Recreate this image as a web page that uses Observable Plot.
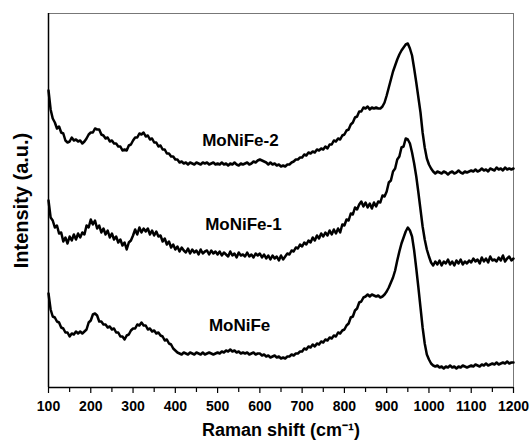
<!DOCTYPE html>
<html><head><meta charset="utf-8">
<script src="https://cdn.jsdelivr.net/npm/d3@7"></script>
<script src="https://cdn.jsdelivr.net/npm/@observablehq/plot@0.6"></script>
<style>
body{margin:0;background:#fff;}
#chart svg{font-family:"Liberation Sans",Arial,sans-serif;}
</style>
</head><body><div id="chart"></div>
<script>
// Raman shift sampling (cm-1): first value and step
const shiftStart = 100;
const shiftStep = 5;

// Intensities (a.u.), one per 5 cm-1 from 100 to 1200
const moNiFe2 = [
310,291,282,278,272,274,268,267,260,258,259,263,260,261,259,260,257,259,262,266,
268,268,272,271,271,266,265,262,263,259,260,257,257,254,254,250,251,250,255,256,
260,263,263,267,266,268,264,265,261,262,258,258,254,255,251,251,247,247,244,244,
241,241,238,239,237,238,236,238,237,236,238,237,236,238,237,238,236,237,238,236,
237,236,238,236,237,235,237,236,238,236,235,237,236,237,238,236,237,239,238,240,
241,240,239,238,236,238,236,237,235,236,234,235,234,236,236,238,239,241,241,243,
243,246,245,248,247,249,248,251,250,252,251,254,252,256,256,260,259,262,261,265,
266,270,271,276,278,283,284,289,289,293,292,294,291,293,292,293,292,292,294,298,
305,313,321,329,335,341,346,350,353,356,357,352,345,332,318,303,288,268,253,242,
236,232,229,227,229,228,227,229,228,226,228,229,227,228,230,228,227,229,228,229,
230,229,231,229,230,232,230,231,229,232,231,230,233,231,232,230,233,231,232,231,232
];
const moNiFe1 = [
200,183,180,173,175,167,168,159,163,157,164,160,166,161,167,163,168,166,175,173,
181,176,180,172,175,168,172,166,170,163,167,161,164,158,161,155,158,151,158,160,
165,171,166,173,168,172,169,172,166,170,165,169,164,165,159,162,156,159,153,156,
151,154,149,153,150,148,152,147,151,148,150,146,151,147,149,150,146,150,147,149,
146,149,145,148,146,144,149,145,147,143,148,145,146,144,148,144,146,143,147,145,
147,143,146,142,145,141,145,142,144,140,145,141,144,147,146,150,149,153,152,156,
154,158,156,160,158,163,160,165,162,167,164,168,165,170,166,171,167,172,168,176,
175,181,180,187,186,193,191,196,199,194,198,193,197,192,198,194,199,198,205,204,
209,218,220,229,232,241,244,253,254,262,261,257,248,237,224,208,191,174,161,151,
144,138,135,139,136,140,135,139,137,141,136,139,135,140,137,141,136,139,137,140,
138,142,139,141,137,143,139,142,138,144,140,141,139,143,140,145,139,142,144,140,142
];
const moNiFe = [
107,91,84,83,79,78,73,72,68,68,64,67,66,69,67,69,67,69,71,78,
80,86,87,85,79,79,76,76,73,74,71,72,68,68,64,64,61,65,66,70,
72,72,76,75,78,75,75,71,72,69,70,67,68,65,64,60,61,57,56,52,
50,48,47,46,48,47,46,48,47,46,48,47,46,48,46,47,48,47,46,47,
48,47,49,48,50,49,51,49,50,48,49,47,48,47,48,46,47,48,46,47,
47,45,46,44,45,43,44,45,43,44,42,43,42,44,44,46,45,47,47,49,
49,52,51,54,53,56,54,57,56,59,58,61,60,63,62,65,64,68,67,70,
71,75,77,83,84,90,92,98,99,103,104,106,104,106,105,104,105,103,104,106,
109,113,118,123,130,140,149,157,163,169,173,170,164,150,132,113,93,73,57,46,
41,37,35,34,35,33,34,32,34,33,35,33,34,32,34,33,35,34,33,34,
35,34,36,35,34,36,35,37,35,36,37,36,38,36,37,38,37,39,37,38,38
];

const seriesNames = ["MoNiFe-2", "MoNiFe-1", "MoNiFe"];
// label anchor positions in data units
const labelShift = [554, 561, 552];
const labelIntensity = [260, 176, 75];

const majorTicks = [100,200,300,400,500,600,700,800,900,1000,1100,1200];
const minorTicks = [150,250,350,450,550,650,750,850,950,1050,1150];

const rows = [];
[moNiFe2, moNiFe1, moNiFe].forEach((arr, i) =>
  arr.forEach((v, j) => rows.push({series: seriesNames[i], shift: shiftStart + j * shiftStep, intensity: v})));
const labels = seriesNames.map((s, i) => ({text: s, shift: labelShift[i], intensity: labelIntensity[i]}));

const font = '"Liberation Sans", Arial, sans-serif';
const plot = Plot.plot({
  width: 530, height: 443,
  marginLeft: 48, marginRight: 17, marginTop: 13, marginBottom: 56,
  x: {domain: [100, 1200]},
  y: {domain: [13, 387], axis: null},
  style: {fontFamily: font, color: "black", background: "white"},
  marks: [
    Plot.frame({stroke: "#777", strokeWidth: 1}),
    Plot.ruleX([100], {stroke: "black", strokeWidth: 1.5}),
    Plot.ruleY([13], {stroke: "black", strokeWidth: 1.5}),
    Plot.axisX(majorTicks, {tickSize: 6, tickPadding: 8, fontSize: 14, fontWeight: "bold", label: null, tickFormat: d => String(d), stroke: "black", strokeWidth: 1.2}),
    Plot.axisX(minorTicks, {tickSize: 5, text: null, label: null, stroke: "black", strokeWidth: 1.2}),
    Plot.line(rows, {x: "shift", y: "intensity", z: "series", stroke: "black", strokeWidth: 2.5}),
    Plot.text(labels, {x: "shift", y: "intensity", text: "text", fontSize: 17, fontWeight: "bold", fill: "black"}),
    Plot.text(["Intensity (a.u.)"], {frameAnchor: "left", textAnchor: "middle", rotate: -90, dx: -27, fontSize: 20, fontWeight: "bold", fill: "black"}),
    Plot.text(["Raman shift (cm\u207B\u00B9)"], {frameAnchor: "bottom", dy: 48, fontSize: 18, fontWeight: "bold", fill: "black"})
  ]
});
document.getElementById("chart").appendChild(plot);
</script>
</body></html>
